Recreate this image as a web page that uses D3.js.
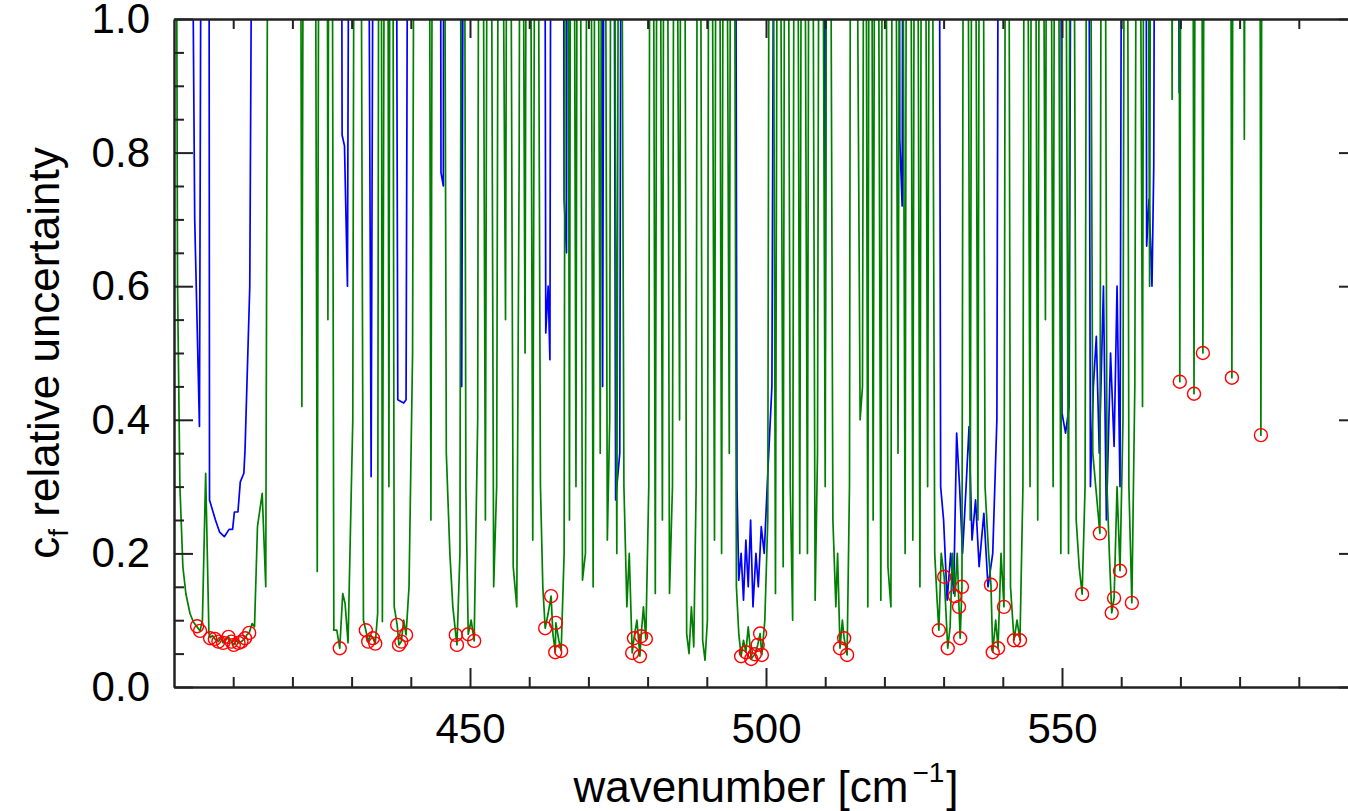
<!DOCTYPE html>
<html>
<head>
<meta charset="utf-8">
<script src="https://cdn.jsdelivr.net/npm/d3@7"></script>
<style>
  body { margin: 0; background: #fff; }
  svg { display: block; font-family: "Liberation Sans", Arial, Helvetica, sans-serif; }
</style>
</head>
<body>
<div id="chart"></div>
<script>
// axis ticks
const xMajor = [450, 500, 550];
const xMinor = [410, 420, 430, 440, 460, 470, 480, 490, 510, 520, 530, 540, 560, 570, 580, 590];
const yMajor = [0.0, 0.2, 0.4, 0.6, 0.8, 1.0];
const yMinor = [0.05, 0.1, 0.15, 0.25, 0.3, 0.35, 0.45, 0.5, 0.55, 0.65, 0.7, 0.75, 0.85, 0.9, 0.95];

// [wavenumber, relative uncertainty]; values above 1 run off the top of the frame
const blue = [
  [401.6, 3], [403.5, 0.7], [404.3, 0.39], [405.0, 2.5], [405.8, 2.5], [406.0, 0.28], [407.0, 0.25],
  [407.7, 0.232], [408.5, 0.225], [409.3, 0.236], [409.9, 0.236], [410.2, 0.262], [410.8, 0.262],
  [411.2, 0.307], [411.8, 0.32], [412.0, 0.355], [412.8, 0.6], [413.9, 2.5],
  [428.0, 2.5], [428.4, 0.826], [428.8, 0.81], [429.3, 0.6], [430.0, 2.5],
  [432.3, 2.5], [433.3, 0.315], [434.1, 2.5],
  [437.2, 2.5], [437.8, 0.43], [438.8, 0.425], [439.2, 0.43], [439.9, 2.5],
  [444.8, 2.5], [445.1, 0.77], [445.5, 0.75], [445.7, 2.5],
  [448.0, 2.5], [448.6, 0.45], [449.3, 2.5],
  [462.4, 2.5], [462.8, 0.53], [463.2, 0.6], [463.5, 0.49], [463.9, 2.5],
  [465.6, 2.5], [465.9, 0.73], [466.3, 0.65], [466.6, 2.5],
  [471.9, 2.5], [472.4, 0.45], [473.0, 2.5],
  [474.0, 2.5], [474.6, 0.28], [475.3, 0.35], [475.8, 2.5],
  [494.6, 2.5], [495.1, 0.3], [495.4, 0.16], [495.8, 0.2], [496.2, 0.13], [496.6, 0.22], [497.0, 0.15],
  [497.4, 0.25], [497.8, 0.12], [498.3, 0.2], [498.7, 0.15], [499.2, 0.24], [499.7, 0.2], [500.3, 0.32],
  [501.0, 0.45], [501.8, 2.5],
  [509.5, 2.5], [510.0, 0.5], [510.5, 2.5],
  [522.3, 2.5], [522.6, 0.82], [523.0, 0.72], [523.4, 2.5],
  [529.0, 2.5], [529.5, 0.3], [530.0, 0.25], [530.6, 0.13], [531.2, 0.2], [531.7, 0.14], [532.2, 0.38],
  [532.7, 0.3], [533.2, 0.2], [533.8, 0.3], [534.3, 0.39], [534.8, 0.22], [535.4, 0.28], [536.0, 0.18],
  [536.8, 0.26], [537.5, 0.15], [538.3, 0.2], [539.0, 0.4], [539.6, 2.5],
  [549.5, 2.5], [550.0, 0.41], [550.6, 0.38], [551.2, 0.42], [552.0, 2.5],
  [554.2, 2.5], [554.8, 0.3], [555.3, 0.45], [555.8, 0.525], [556.3, 0.35], [557.0, 0.6], [557.5, 0.25],
  [558.2, 0.5], [558.8, 0.36], [559.3, 0.6], [559.8, 0.3], [560.4, 2.5],
  [564.0, 2.5], [564.3, 0.66], [564.7, 0.73], [565.2, 0.6], [565.5, 0.78], [566.0, 2.5],
  [569.0, 2.5], [569.8, 0.89], [570.2, 2.5]
];

const green = [
  [400.0, 2.5], [400.6, 0.6], [401.0, 0.3], [401.5, 0.18], [402.0, 0.14], [402.7, 0.11], [403.3, 0.097],
  [403.9, 0.09], [404.4, 0.084], [404.8, 0.1], [405.35, 0.32], [405.9, 0.08], [406.1, 0.074], [406.5, 0.077],
  [406.9, 0.072], [407.5, 0.068], [407.9, 0.074], [408.3, 0.066], [408.8, 0.071], [409.2, 0.075],
  [409.7, 0.068], [410.1, 0.063], [410.5, 0.07], [410.9, 0.066], [411.4, 0.068], [412.0, 0.073],
  [412.3, 0.078], [412.7, 0.081], [413.2, 0.095], [413.6, 0.09], [414.1, 0.24], [414.9, 0.29],
  [415.5, 0.15], [416.2, 2.4],
  [421.1, 2.4], [421.6, 0.42], [422.1, 2.1], [423.6, 2.2], [424.2, 0.173], [424.8, 2.6], [425.7, 2.5],
  [426.0, 0.55], [426.3, 2.0], [426.5, 2.2], [427.0, 0.085], [427.5, 0.085], [428.0, 0.058], [428.5, 0.14],
  [428.9, 0.125], [429.4, 0.066], [430.2, 0.4], [430.6, 2.0], [431.2, 2.3], [432.0, 0.1], [432.4, 0.085],
  [432.8, 0.068], [433.2, 0.078], [433.6, 0.073], [434.0, 0.065], [434.4, 0.11], [434.8, 2.5], [435.2, 0.098],
  [435.9, 2.5], [436.3, 0.3], [436.7, 2.5], [437.2, 0.12], [437.7, 0.093], [438.0, 0.063], [438.4, 0.068],
  [438.8, 0.1], [439.2, 0.078], [439.7, 0.15], [440.3, 0.5], [440.9, 2.5], [442.9, 2.2], [443.4, 0.25],
  [443.9, 2.4], [445.4, 2.2], [446.0, 0.35], [446.6, 0.2], [447.1, 0.12], [447.6, 0.078], [447.8, 0.063],
  [448.3, 0.2], [448.8, 2.5], [449.3, 0.3], [449.7, 0.079], [450.2, 0.1], [450.7, 0.069], [451.3, 0.4],
  [451.7, 2.5], [452.6, 0.25], [453.2, 2.3], [454.0, 0.15], [454.5, 0.3], [455.0, 2.0], [456.0, 0.55],
  [456.5, 2.2], [457.3, 0.18], [457.9, 0.12], [458.3, 0.78], [458.6, 2.0], [459.3, 0.5], [459.8, 2.4],
  [460.6, 0.22], [461.2, 2.0], [461.9, 0.3], [462.3, 0.15], [462.7, 0.088], [463.2, 0.11], [463.7, 0.136],
  [464.0, 0.08], [464.4, 0.052], [464.5, 0.096], [465.0, 0.07], [465.4, 0.054], [465.9, 0.2], [466.3, 2.5],
  [466.8, 0.25], [467.2, 2.5], [467.9, 0.3], [468.3, 2.2], [469.0, 0.16], [469.5, 0.2], [470.0, 2.6],
  [470.8, 0.15], [471.3, 2.1], [472.0, 0.35], [472.5, 2.4], [473.2, 0.22], [473.6, 0.4], [474.0, 2.3],
  [474.8, 0.2], [475.3, 2.1], [476.0, 0.3], [476.5, 0.12], [476.9, 0.2], [477.4, 0.051], [477.7, 0.073],
  [478.2, 0.1], [478.7, 0.046], [478.9, 0.076], [479.3, 0.12], [479.7, 0.072], [480.2, 0.3], [480.6, 2.5],
  [481.3, 0.14], [481.8, 2.2], [482.5, 0.25], [483.0, 2.4], [483.7, 0.14], [484.2, 0.3], [484.6, 2.0],
  [485.4, 0.4], [485.9, 2.6], [486.6, 0.08], [487.0, 0.05], [487.4, 0.12], [487.8, 0.06], [488.2, 0.3],
  [488.6, 2.3], [489.3, 0.07], [489.7, 0.04], [490.1, 0.1], [490.5, 2.2], [491.3, 0.22], [491.8, 2.4],
  [492.5, 0.2], [493.0, 2.1], [493.8, 0.35], [494.3, 2.5], [495.0, 0.15], [495.4, 0.08], [495.8, 0.046],
  [496.2, 0.07], [496.6, 0.052], [497.0, 0.09], [497.5, 0.042], [498.1, 0.049], [498.6, 0.063], [499.0, 0.08],
  [499.3, 0.048], [499.8, 0.1], [500.3, 0.25], [500.8, 2.5], [501.6, 0.14], [502.1, 2.0], [502.9, 0.18],
  [503.4, 2.3], [504.1, 0.3], [504.5, 0.1], [505.0, 2.5], [505.7, 0.2], [506.2, 2.1], [507.0, 0.2],
  [507.5, 2.4], [508.3, 0.13], [508.7, 0.35], [509.2, 2.2], [510.0, 0.3], [510.5, 2.3], [511.3, 0.25],
  [511.8, 0.12], [512.1, 0.2], [512.5, 0.058], [512.9, 0.1], [513.2, 0.073], [513.7, 0.048], [514.1, 0.3],
  [514.5, 2.5], [515.9, 0.4], [516.3, 0.45], [516.7, 2.0], [517.2, 0.12], [517.6, 2.4], [518.1, 0.25],
  [518.6, 2.2], [519.4, 0.13], [519.9, 2.5], [520.6, 0.18], [521.1, 0.12], [521.5, 2.3], [522.3, 0.35],
  [522.8, 2.1], [523.5, 0.2], [524.0, 2.6], [524.8, 0.22], [525.3, 2.2], [526.0, 0.15], [526.5, 2.4],
  [527.3, 0.3], [527.8, 2.0], [528.5, 0.2], [528.9, 0.13], [529.2, 0.085], [529.6, 0.2], [530.1, 0.165],
  [530.7, 0.058], [531.1, 0.09], [531.5, 0.2], [531.9, 0.136], [532.3, 0.2], [532.6, 0.12], [532.8, 0.073],
  [533.1, 0.15], [533.6, 2.5], [534.5, 0.25], [535.0, 2.2], [535.8, 0.25], [536.3, 2.4], [537.0, 0.3],
  [537.6, 0.2], [538.0, 0.153], [538.3, 0.052], [538.8, 0.1], [539.2, 0.058], [539.7, 0.2], [540.2, 0.12],
  [540.7, 2.5], [541.3, 0.15], [541.9, 0.07], [542.4, 0.1], [542.9, 0.07], [543.4, 0.3], [543.8, 2.2],
  [544.6, 0.3], [545.1, 2.4], [545.9, 0.25], [546.4, 2.1], [547.2, 0.55], [547.7, 2.5], [548.5, 0.3],
  [549.0, 2.3], [549.8, 0.2], [550.3, 2.0], [551.1, 0.2], [551.6, 2.4], [552.4, 0.25], [552.9, 0.18],
  [553.4, 0.139], [553.9, 0.3], [554.4, 2.2], [555.2, 0.35], [555.7, 0.3], [556.4, 0.23], [556.9, 2.5],
  [557.6, 0.3], [558.0, 0.2], [558.4, 0.111], [558.8, 0.133], [559.3, 0.3], [559.8, 0.174], [560.3, 0.4],
  [560.8, 2.3], [561.3, 0.3], [561.8, 0.126], [562.3, 0.45], [562.8, 2.1], [563.6, 0.42], [564.1, 2.4],
  [564.8, 0.6], [565.3, 2.5], [568.3, 2.5], [568.6, 0.88], [568.9, 2.5], [569.6, 2.5], [569.9, 0.457],
  [570.3, 2.4], [571.9, 2.2], [572.3, 0.439], [572.8, 2.5], [573.4, 2.1], [573.8, 0.5], [574.3, 2.4],
  [578.3, 2.0], [578.7, 0.463], [579.2, 2.6], [580.5, 2.0], [580.8, 0.82], [581.2, 2.3],
  [583.2, 2.5], [583.6, 0.377], [584.0, 2.5]
];

// selected channels (red circles)
const picked = [
  [403.9, 0.091], [404.4, 0.084], [406.1, 0.073], [406.9, 0.072], [407.5, 0.068], [408.3, 0.066],
  [409.2, 0.075], [409.7, 0.068], [410.1, 0.063], [410.9, 0.066], [411.4, 0.068], [412.0, 0.073],
  [412.7, 0.081], [428.0, 0.058], [432.4, 0.085], [432.8, 0.068], [433.6, 0.073], [434.0, 0.065],
  [437.7, 0.093], [438.0, 0.063], [438.4, 0.068], [439.2, 0.078], [447.6, 0.078], [447.8, 0.063],
  [449.7, 0.079], [450.7, 0.069], [462.7, 0.088], [463.7, 0.136], [464.5, 0.096], [464.4, 0.052],
  [465.4, 0.054], [477.4, 0.051], [477.7, 0.073], [478.7, 0.046], [478.9, 0.076], [479.7, 0.072],
  [495.8, 0.046], [496.6, 0.052], [497.5, 0.042], [498.1, 0.049], [498.6, 0.063], [499.3, 0.048],
  [499.0, 0.08], [512.5, 0.058], [513.2, 0.073], [513.7, 0.048], [529.2, 0.085], [530.1, 0.165],
  [530.7, 0.058], [531.9, 0.136], [532.6, 0.12], [533.1, 0.15], [532.8, 0.073], [538.0, 0.153],
  [538.3, 0.052], [539.2, 0.058], [540.2, 0.12], [541.9, 0.07], [542.9, 0.07], [553.4, 0.139],
  [556.4, 0.23], [558.4, 0.111], [558.8, 0.133], [559.8, 0.174], [561.8, 0.126], [569.9, 0.457],
  [572.3, 0.439], [573.8, 0.5], [578.7, 0.463], [583.6, 0.377]
];

const width = 1348;
const height = 811;
const plotLeft = 174;
const plotTop = 19;
const plotW = 1184;
const plotH = 668;

const x = d3.scaleLinear().domain([400, 600]).range([plotLeft, plotLeft + plotW]);
const y = d3.scaleLinear().domain([0, 1]).range([plotTop + plotH, plotTop]);

const svg = d3.select('#chart').append('svg')
  .attr('width', width)
  .attr('height', height);

svg.append('rect').attr('width', width).attr('height', height).attr('fill', '#fff');

svg.append('clipPath').attr('id', 'plot')
  .append('rect')
  .attr('x', plotLeft).attr('y', plotTop)
  .attr('width', plotW).attr('height', plotH);

const line = d3.line().x(d => x(d[0])).y(d => y(d[1]));
const plot = svg.append('g').attr('clip-path', 'url(#plot)');

plot.append('path').datum(blue)
  .attr('d', line)
  .attr('fill', 'none')
  .attr('stroke', '#0000ff')
  .attr('stroke-width', 1.7)
  .attr('stroke-linejoin', 'round');

plot.append('path').datum(green)
  .attr('d', line)
  .attr('fill', 'none')
  .attr('stroke', '#008000')
  .attr('stroke-width', 1.7)
  .attr('stroke-linejoin', 'round');

plot.selectAll('circle').data(picked).join('circle')
  .attr('cx', d => x(d[0]))
  .attr('cy', d => y(d[1]))
  .attr('r', 6.5)
  .attr('fill', 'none')
  .attr('stroke', '#ff0000')
  .attr('stroke-width', 1.4);

// axes: ticks point into the frame, labels only on left and bottom
function style(g) {
  g.select('.domain').attr('stroke', '#222').attr('stroke-width', 2);
  g.selectAll('.tick line').attr('stroke', '#222').attr('stroke-width', 2);
  g.selectAll('.tick text').attr('fill', '#000').attr('font-size', 42)
    .attr('font-family', '"Liberation Sans", Arial, sans-serif');
}

const none = () => '';

svg.append('g').attr('transform', `translate(0,${plotTop + plotH})`)
  .call(d3.axisBottom(x).tickValues(xMinor).tickSize(-10).tickSizeOuter(0).tickFormat(none)).call(style);
svg.append('g').attr('transform', `translate(0,${plotTop + plotH})`)
  .call(d3.axisBottom(x).tickValues(xMajor).tickSize(-19).tickSizeOuter(0).tickPadding(26).tickFormat(d3.format('d')))
  .call(style);

svg.append('g').attr('transform', `translate(0,${plotTop})`)
  .call(d3.axisTop(x).tickValues(xMinor).tickSize(-10).tickSizeOuter(0).tickFormat(none)).call(style);
svg.append('g').attr('transform', `translate(0,${plotTop})`)
  .call(d3.axisTop(x).tickValues(xMajor).tickSize(-19).tickSizeOuter(0).tickFormat(none)).call(style);

svg.append('g').attr('transform', `translate(${plotLeft},0)`)
  .call(d3.axisLeft(y).tickValues(yMinor).tickSize(-10).tickSizeOuter(0).tickFormat(none)).call(style);
svg.append('g').attr('transform', `translate(${plotLeft},0)`)
  .call(d3.axisLeft(y).tickValues(yMajor).tickSize(-19).tickSizeOuter(0).tickPadding(24).tickFormat(d3.format('.1f')))
  .call(style);

svg.append('g').attr('transform', `translate(${plotLeft + plotW},0)`)
  .call(d3.axisRight(y).tickValues(yMinor).tickSize(-10).tickSizeOuter(0).tickFormat(none)).call(style);
svg.append('g').attr('transform', `translate(${plotLeft + plotW},0)`)
  .call(d3.axisRight(y).tickValues(yMajor).tickSize(-19).tickSizeOuter(0).tickFormat(none)).call(style);

// titles
const xTitle = svg.append('text')
  .attr('x', plotLeft + plotW / 2)
  .attr('y', 802)
  .attr('text-anchor', 'middle')
  .attr('font-size', 44)
  .attr('fill', '#000');
xTitle.append('tspan').text('wavenumber [cm');
xTitle.append('tspan').attr('font-size', 28).attr('dy', -20).attr('dx', 4).text('\u22121');
xTitle.append('tspan').attr('dy', 20).attr('dx', 2).text(']');

const yTitle = svg.append('text')
  .attr('transform', `translate(59,${plotTop + plotH / 2}) rotate(-90)`)
  .attr('text-anchor', 'middle')
  .attr('font-size', 44)
  .attr('fill', '#000');
yTitle.append('tspan').text('c');
yTitle.append('tspan').attr('font-size', 28).attr('dy', 9).text('f');
yTitle.append('tspan').attr('dy', -9).text(' relative uncertainty');
</script>
</body>
</html>
